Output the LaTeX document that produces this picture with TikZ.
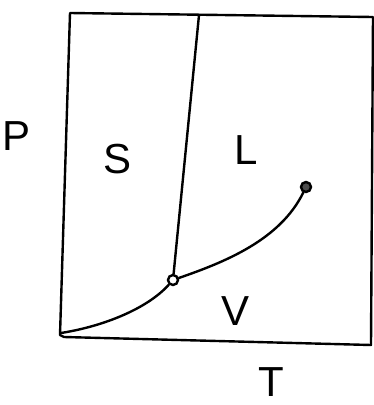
\documentclass[tikz,border=0pt]{standalone}
\usepackage{fontspec}
\setmainfont{Liberation Sans}
\begin{document}
\begin{tikzpicture}[x=1pt,y=-1pt,
  stroke/.style={line width=2.4pt,line cap=round,line join=round},
  lbl/.style={font=\fontsize{42}{42}\selectfont,inner sep=0pt,anchor=base,text depth=0pt},
  pt/.style={circle,draw,line width=2.4pt,inner sep=0pt,minimum size=10pt}]
\useasboundingbox (0,0) rectangle (374,405);
\fill[white] (0,0) rectangle (374,405);
% frame
\draw[stroke] (70,13) -- (373,17) -- (371,345) -- (64,337) -- (60,335) -- cycle;
% points
\node[pt,fill=white] (tp) at (173,280) {};
\node[pt,fill=black!70] (cp) at (306,187) {};
\coordinate (top) at (199,15);
\coordinate (origin) at (61,333);
% phase boundaries
\draw[stroke] (tp) -- (top);
\draw[stroke] (origin) .. controls (105,326) and (148,308) .. (tp);
\draw[stroke] (tp) .. controls (225,262) and (280,240) .. (cp);
% labels
\node[lbl] (P) at (17,150) {P};
\node[lbl] (S) at (118,173) {S};
\node[lbl] (L) at (246,164) {L};
\node[lbl] (V) at (236,325) {V};
\node[lbl] (T) at (271,396) {T};
\end{tikzpicture}
\end{document}
